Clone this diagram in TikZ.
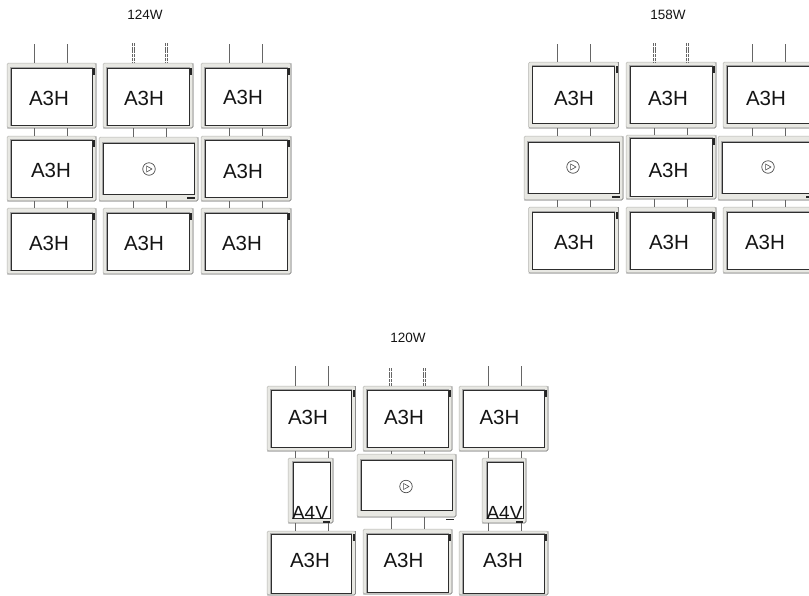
\documentclass[tikz,border=0pt]{standalone}
\usepackage{fontspec}
\setmainfont{Liberation Sans}
\definecolor{pframe}{HTML}{E8E8E3}
\definecolor{pedge}{HTML}{B4B4B0}
\definecolor{pline}{HTML}{2E2E2E}
\definecolor{wirec}{HTML}{666666}
\tikzset{
  x=1pt,y=-1pt,
  outerbox/.style={draw=pedge,line width=.5pt,fill=pframe,rounded corners=1.5pt,inner sep=0pt,outer sep=0pt},
  innerbox/.style={preaction={draw=black!35,line width=1.8pt},draw=pline,line width=.8pt,fill=white,inner sep=0pt,outer sep=0pt},
  shade edge/.style={draw=black!45,line width=.7pt,rounded corners=1.5pt},
  lab/.style={font=\fontsize{20.5}{22}\selectfont,text=black!92,inner sep=0pt},
  lab4/.style={font=\fontsize{19}{21}\selectfont,text=black!92,inner sep=0pt,anchor=base},
  titlelab/.style={font=\fontsize{13.5}{15}\selectfont,text=black!92,inner sep=0pt},
  wire/.style={draw=wirec,line width=.7pt},
  wiredbl/.style={draw=black!60,line width=.5pt,dash pattern=on 3pt off .7pt},
  blackmark/.style={fill=black!85,draw=none},
  playc/.style={draw=black!70,line width=.7pt,circle,minimum size=12.5pt,inner sep=0pt,fill=white},
}
% name, x0,y0,x1,y1, inset l,t,r,b
\newcommand\panel[9]{%
  \pgfmathsetmacro\pw{#4-#2}\pgfmathsetmacro\ph{#5-#3}%
  \pgfmathsetmacro\pcx{(#2+#4)/2}\pgfmathsetmacro\pcy{(#3+#5)/2}%
  \node[outerbox,minimum width=\pw pt,minimum height=\ph pt] (#1) at (\pcx,\pcy) {};
  \draw[shade edge] (#1.south west) -- (#1.south east) -- (#1.north east);
  \pgfmathsetmacro\iw{#4-#2-#6-#8}\pgfmathsetmacro\ih{#5-#3-#7-#9}%
  \pgfmathsetmacro\icx{(#2+#6+#4-#8)/2}\pgfmathsetmacro\icy{(#3+#7+#5-#9)/2}%
  \node[innerbox,minimum width=\iw pt,minimum height=\ih pt] (#1i) at (\icx,\icy) {};
}
% name, x0,y0,x1,y1, text x,y, inset top,bottom
\newcommand\std[9]{\panel{#1}{#2}{#3}{#4}{#5}{4}{#8}{4}{#9}\node[lab] (#1t) at (#6,#7) {A3H};
  \fill[blackmark] ([shift={(1.2pt,0pt)}]#1i.north east) rectangle ++(1.8,7);}
% name, x0,y0,x1,y1, icon x,y
\newcommand\wide[7]{\panel{#1}{#2}{#3}{#4}{#5}{4}{6}{4}{6.5}%
  \node[playc] (#1p) at (#6,#7) {};
  \draw[line width=.6pt,draw=black!70,line join=round] ([xshift=-2.4pt,yshift=3pt]#1p.center) -- ([xshift=-2.4pt,yshift=-3pt]#1p.center) -- ([xshift=3pt]#1p.center) -- cycle;}
\newcommand\wires[5]{\coordinate (wa) at (#3,0);\coordinate (wb) at (#4,0);
  \draw[#5] (#1.south -| wa) -- (#2.north -| wa);
  \draw[#5] (#1.south -| wb) -- (#2.north -| wb);}
\newcommand\topwires[5]{\coordinate (#1ta) at (#2,#4);\coordinate (#1tb) at (#3,#4);
  \draw[#5] (#1ta) -- (#1.north -| #1ta);
  \draw[#5] (#1tb) -- (#1.north -| #1tb);}
% pairs of thin dashed wires entering a panel from above
\newcommand\dblwires[4]{\coordinate (#1ta) at (#2,#4);\coordinate (#1tb) at (#3,#4);
  \coordinate (#1ea) at (#1.north -| #1ta);\coordinate (#1eb) at (#1.north -| #1tb);
  \draw[wiredbl] ([xshift=-1pt]#1ta) -- ([xshift=-1pt]#1ea);
  \draw[wiredbl] ([xshift=1pt]#1ta) -- ([xshift=1pt]#1ea);
  \draw[wiredbl] ([xshift=-1pt]#1tb) -- ([xshift=-1pt]#1eb);
  \draw[wiredbl] ([xshift=1pt]#1tb) -- ([xshift=1pt]#1eb);}
\begin{document}
\begin{tikzpicture}
\path[use as bounding box,clip] (0,0) rectangle (809,595);
% ---------- group 1 ----------
\node[titlelab] (t1) at (145,15) {124W};
\std{aa}{7}{63}{96}{128}{49}{98}{5}{3}
\std{ab}{103}{63}{193}{128}{144}{98}{5}{3}
\std{ac}{201}{63}{291}{128}{243}{97}{5}{3}
\std{ba}{7}{136}{96}{201}{51}{170}{4}{3.5}
\wide{bb}{99}{137}{198}{201}{149}{169}
\std{bc}{201}{136}{291}{201}{243}{171}{4}{3.5}
\std{ca}{7}{208}{96}{274}{49}{243}{5}{4}
\std{cb}{103}{208}{193}{274}{144}{243}{5}{4}
\std{cc}{201}{208}{291}{274}{242}{243}{5}{4}
\fill[blackmark] (187,197) rectangle (195,199);
\topwires{aa}{34}{67}{44}{wire}
\dblwires{ab}{133}{166}{43}
\topwires{ac}{229}{262}{44}{wire}
\wires{aa}{ba}{34}{67}{wire}\wires{ab}{bb}{133}{166}{wire}\wires{ac}{bc}{229}{262}{wire}
\wires{ba}{ca}{34}{67}{wire}\wires{bb}{cb}{133}{166}{wire}\wires{bc}{cc}{229}{262}{wire}
% ---------- group 2 ----------
\node[titlelab] (t2) at (668,15) {158W};
\std{da}{528.5}{62}{618.5}{128}{574}{98}{4}{5}
\std{db}{626}{62}{716}{128}{668}{98}{4}{5}
\std{dc}{723}{62}{813}{128}{766}{98}{4}{5}
\wide{ea}{524}{136}{623}{200}{573}{167}
\std{eb}{626}{135}{716}{199}{668.5}{170}{3}{3}
\wide{ec}{718}{136}{817}{200}{768}{167}
\std{fa}{528.5}{207}{618.5}{273}{574}{242}{5}{4}
\std{fb}{626}{207}{716}{273}{669}{242}{5}{4}
\std{fc}{723}{207}{813}{273}{765}{242}{5}{4}
\fill[blackmark] (612,196) rectangle (620,198);
\fill[blackmark] (806,196) rectangle (811,198);
\topwires{da}{557}{590}{44}{wire}
\dblwires{db}{654}{687}{43}
\topwires{dc}{752}{785}{44}{wire}
\wires{da}{ea}{557}{590}{wire}\wires{db}{eb}{654}{687}{wire}\wires{dc}{ec}{752}{785}{wire}
\wires{ea}{fa}{557}{590}{wire}\wires{eb}{fb}{654}{687}{wire}\wires{ec}{fc}{752}{785}{wire}
% ---------- group 3 ----------
\node[titlelab] (t3) at (408,338) {120W};
\std{ga}{267}{386}{355.5}{451}{308}{417}{4}{4}
\std{gb}{363}{386}{452}{451}{404}{417}{4}{4}
\std{gc}{459}{386}{548}{451}{499.5}{417}{4}{4}
\panel{ha}{288}{458}{333}{523}{5}{4}{3}{5}\node[lab4] (hat) at (310,519) {A4V};
\wide{hb}{357}{454}{456}{517}{406}{486.5}
\panel{hc}{482}{458}{526}{523}{5}{4}{3}{5}\node[lab4] (hct) at (504.5,519) {A4V};
\std{ia}{267}{531}{355.5}{595}{310}{560}{3}{2}
\std{ib}{363}{529}{452}{594}{403.5}{560}{5}{2}
\std{ic}{459}{531}{548}{595}{503}{560}{3}{2}
\fill[blackmark] (323,521) rectangle (330,523);
\fill[blackmark] (516,521) rectangle (523,523);
\fill[blackmark] (446,519) rectangle (454,519.8);
\topwires{ga}{295}{328}{366}{wire}
\dblwires{gb}{390}{424}{368}
\topwires{gc}{488}{521}{366}{wire}
\wires{ga}{ha}{295}{328}{wire}\wires{gb}{hb}{391}{424}{wire}\wires{gc}{hc}{488}{521}{wire}
\wires{ha}{ia}{295}{328}{wire}\wires{hb}{ib}{391}{424}{wire}\wires{hc}{ic}{488}{521}{wire}
\end{tikzpicture}
\end{document}
